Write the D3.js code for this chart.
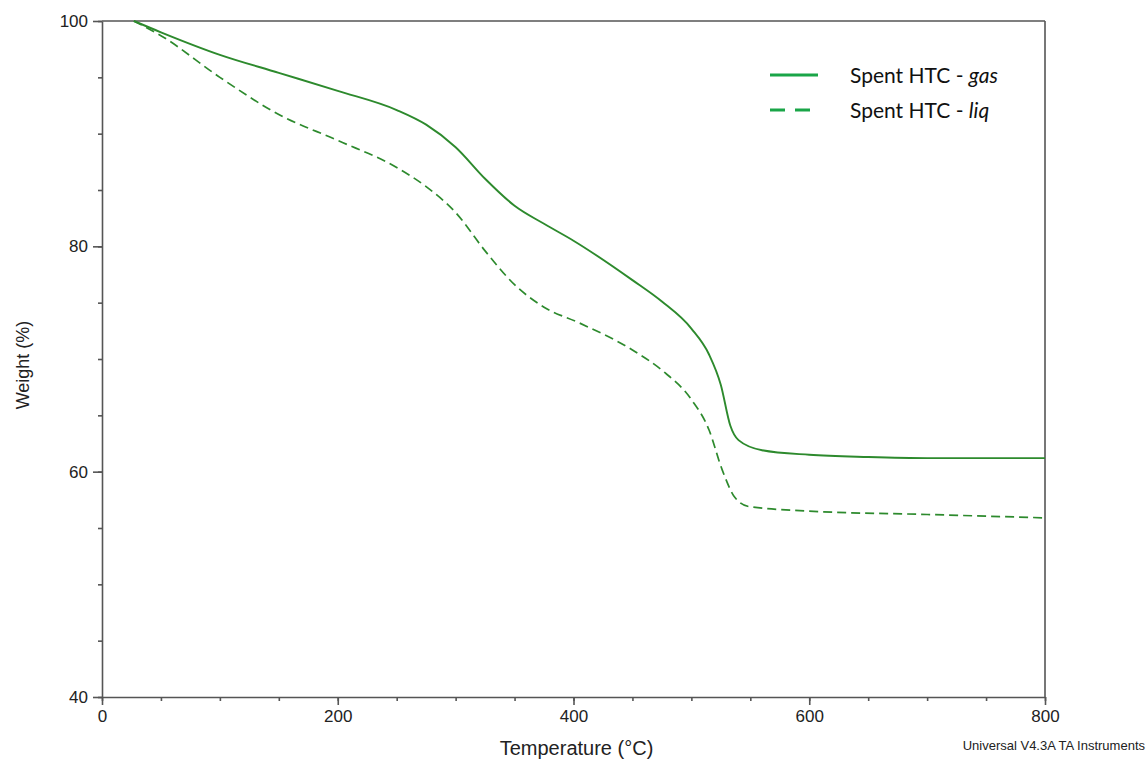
<!DOCTYPE html>
<html>
<head>
<meta charset="utf-8">
<script src="https://cdn.jsdelivr.net/npm/d3@7"></script>
<style>
  body { margin: 0; background: #fff; }
  .axis path, .axis line { stroke: #555; }
  .axis text { font-family: "Liberation Sans", Arial, sans-serif; font-size: 17px; fill: #222; }
</style>
</head>
<body>
<svg id="chart" width="1148" height="762"></svg>
<script>
// TGA curves: temperature (°C) vs weight (%)
const gasTemp = [27, 50, 100, 150, 200, 250, 275, 300, 325, 350, 375, 400, 450, 475, 500, 515, 525, 533, 540, 560, 600, 650, 700, 800];
const gasWeight = [100, 99.0, 97.0, 95.4, 93.8, 92.1, 90.8, 88.8, 86.0, 83.6, 82.0, 80.5, 77.0, 75.1, 72.7, 70.4, 67.7, 64.1, 62.8, 61.9, 61.5, 61.3, 61.2, 61.2];
const liqTemp = [27, 50, 100, 150, 200, 250, 275, 300, 325, 350, 375, 405, 450, 475, 500, 515, 526, 537, 549, 600, 700, 800];
const liqWeight = [100, 98.7, 95.0, 91.7, 89.4, 87.0, 85.3, 83.0, 79.6, 76.6, 74.6, 73.2, 70.8, 69.0, 66.4, 63.7, 60.2, 57.7, 56.9, 56.5, 56.2, 55.9];
const seriesNames = ['Spent HTC - ', 'Spent HTC - '];
const seriesTags = ['gas', 'liq'];
const xTicks = [0, 200, 400, 600, 800];
const yTicks = [40, 60, 80, 100];

const margin = { top: 21, right: 103, bottom: 65, left: 102 };
const width = 1148 - margin.left - margin.right;
const height = 762 - margin.top - margin.bottom;

const svg = d3.select('#chart');
const g = svg.append('g').attr('transform', 'translate(' + margin.left + ',' + margin.top + ')');

const x = d3.scaleLinear().domain([0, 800]).range([0, width]);
const y = d3.scaleLinear().domain([40, 100]).range([height, 0]);

// minor ticks
g.append('g')
  .attr('class', 'axis')
  .attr('transform', 'translate(0,' + height + ')')
  .call(d3.axisBottom(x).tickValues(d3.range(0, 801, 50)).tickSize(4).tickFormat(''))
  .select('.domain').remove();
g.append('g')
  .attr('class', 'axis')
  .call(d3.axisLeft(y).tickValues(d3.range(40, 101, 5)).tickSize(4).tickFormat(''))
  .select('.domain').remove();

// major axes
g.append('g')
  .attr('class', 'axis')
  .attr('transform', 'translate(0,' + height + ')')
  .call(d3.axisBottom(x).tickValues(xTicks).tickSize(8).tickSizeOuter(0).tickPadding(5).tickFormat(d3.format('d')));
g.append('g')
  .attr('class', 'axis')
  .call(d3.axisLeft(y).tickValues(yTicks).tickSize(9).tickSizeOuter(0).tickPadding(5).tickFormat(d3.format('d')));

g.selectAll('.axis path, .axis line').attr('stroke-width', 1.6);

// frame top and right
g.append('line').attr('x1', 0).attr('x2', width).attr('y1', 0).attr('y2', 0)
  .attr('stroke', '#555').attr('stroke-width', 1.6);
g.append('line').attr('x1', width).attr('x2', width).attr('y1', 0).attr('y2', height)
  .attr('stroke', '#555').attr('stroke-width', 1.6);

const line = d3.line()
  .curve(d3.curveMonotoneX)
  .x(d => x(d[0]))
  .y(d => y(d[1]));

const lineColor = '#2d8a2d';
g.append('path')
  .datum(d3.zip(gasTemp, gasWeight))
  .attr('fill', 'none').attr('stroke', lineColor).attr('stroke-width', 1.9)
  .attr('d', line);
g.append('path')
  .datum(d3.zip(liqTemp, liqWeight))
  .attr('fill', 'none').attr('stroke', lineColor).attr('stroke-width', 1.7)
  .attr('stroke-dasharray', '9,5')
  .attr('d', line);

// axis titles
svg.append('text')
  .attr('x', margin.left + width / 2 + 3).attr('y', 755)
  .attr('text-anchor', 'middle')
  .style('font-family', '"Liberation Sans", Arial, sans-serif').style('font-size', '20px').attr('fill', '#222')
  .text('Temperature (°C)');
svg.append('text')
  .attr('transform', 'translate(29,365) rotate(-90)')
  .attr('text-anchor', 'middle')
  .style('font-family', '"Liberation Sans", Arial, sans-serif').style('font-size', '18px').attr('fill', '#222')
  .text('Weight (%)');
svg.append('text')
  .attr('x', 1145).attr('y', 750)
  .attr('text-anchor', 'end')
  .style('font-family', '"Liberation Sans", Arial, sans-serif').style('font-size', '13px').attr('fill', '#222')
  .text('Universal V4.3A TA Instruments');

// legend
const legendColor = '#1aa548';
const legend = svg.append('g');
seriesTags.forEach((tag, i) => {
  const ly = 75 + i * 35;
  legend.append('line')
    .attr('x1', 770).attr('x2', 818).attr('y1', ly).attr('y2', ly)
    .attr('stroke', legendColor).attr('stroke-width', 3)
    .attr('stroke-dasharray', i === 1 ? '15,10' : null);
  const t = legend.append('text')
    .attr('x', 850).attr('y', ly + 8)
    .style('font-family', 'Lato, "Open Sans", sans-serif').style('font-size', '21px').attr('fill', '#111');
  t.append('tspan').text(seriesNames[i]);
  t.append('tspan').style('font-style', 'italic').text(tag);
});
</script>
</body>
</html>
